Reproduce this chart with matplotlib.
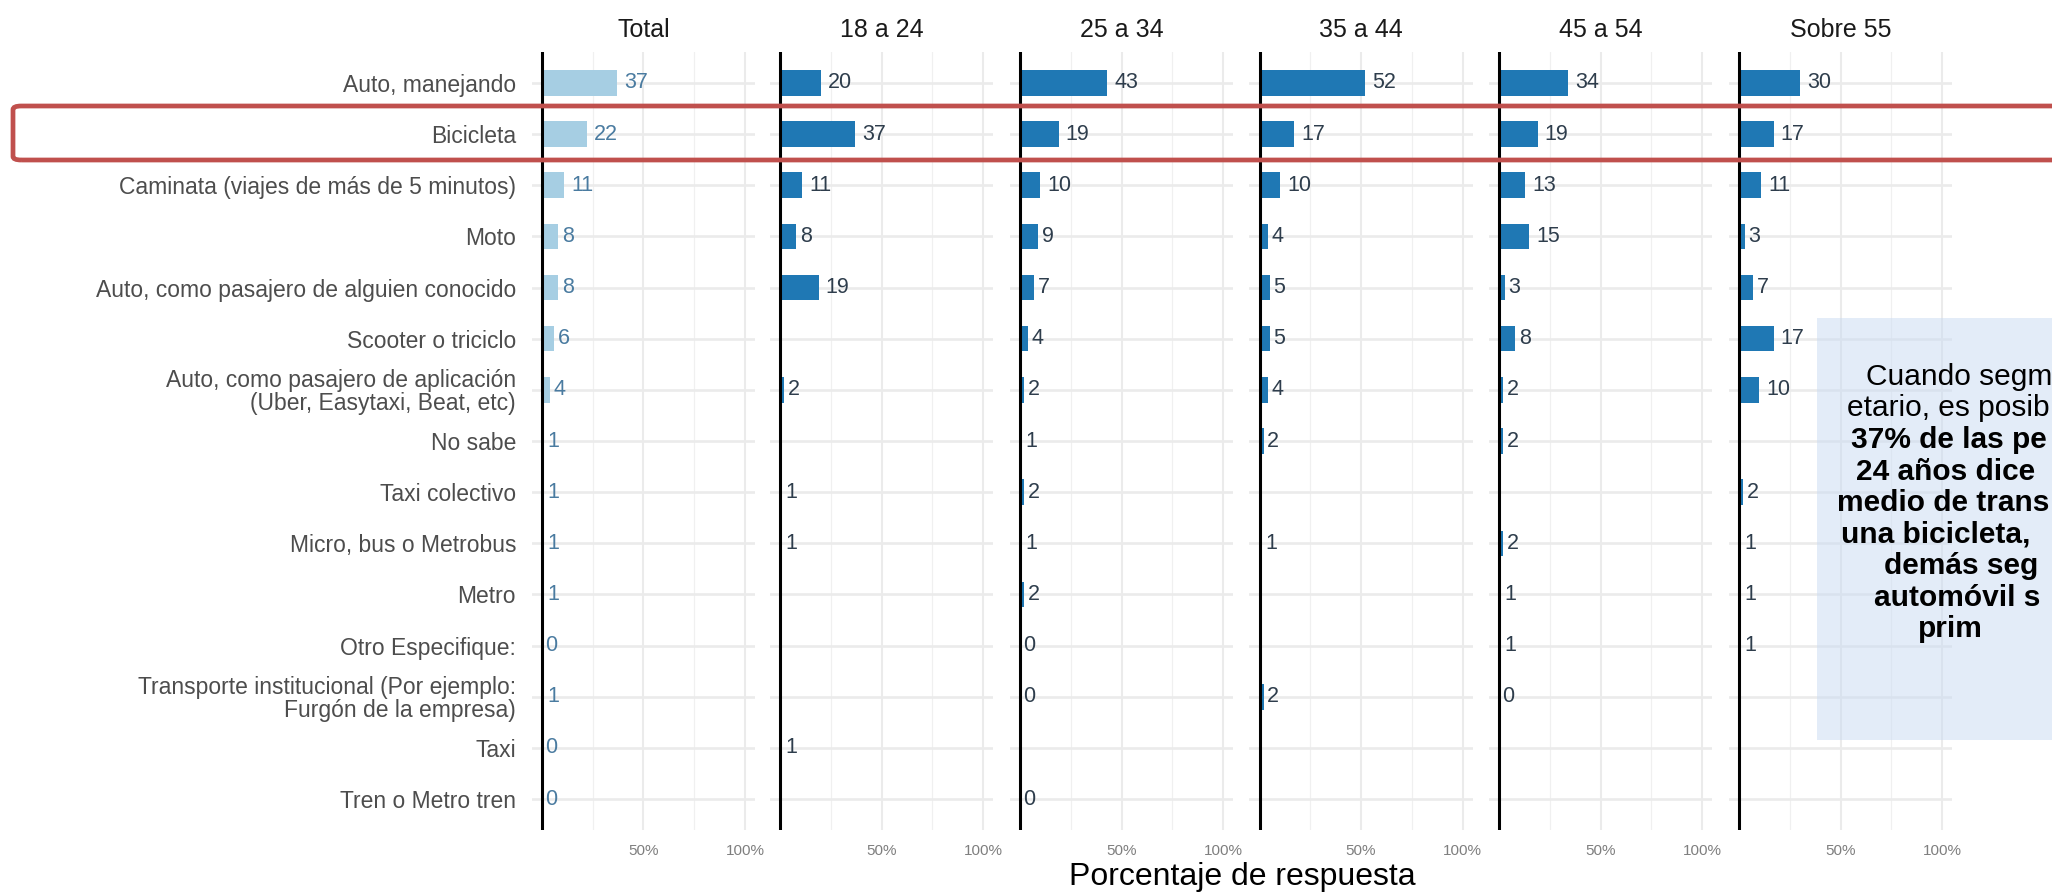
import numpy as np
import matplotlib
matplotlib.use("Agg")
import matplotlib.pyplot as plt
from matplotlib.patches import FancyBboxPatch, Rectangle

plt.rcParams["font.family"] = ["Liberation Sans", "DejaVu Sans"]

# ---- data (percent of answers) ----
categories = [
    "Auto, manejando",
    "Bicicleta",
    "Caminata (viajes de más de 5 minutos)",
    "Moto",
    "Auto, como pasajero de alguien conocido",
    "Scooter o triciclo",
    "Auto, como pasajero de aplicación\n(Uber, Easytaxi, Beat, etc)",
    "No sabe",
    "Taxi colectivo",
    "Micro, bus o Metrobus",
    "Metro",
    "Otro Especifique:",
    "Transporte institucional (Por ejemplo:\nFurgón de la empresa)",
    "Taxi",
    "Tren o Metro tren",
]
panels = ["Total", "18 a 24", "25 a 34", "35 a 44", "45 a 54", "Sobre 55"]
nan = np.nan
total = [37, 22, 11, 8, 8, 6, 4, 1, 1, 1, 1, 0, 1, 0, 0]
age_18_24 = [20, 37, 11, 8, 19, nan, 2, nan, 1, 1, nan, nan, nan, 1, nan]
age_25_34 = [43, 19, 10, 9, 7, 4, 2, 1, 2, 1, 2, 0, 0, nan, 0]
age_35_44 = [52, 17, 10, 4, 5, 5, 4, 2, nan, 1, nan, nan, 2, nan, nan]
age_45_54 = [34, 19, 13, 15, 3, 8, 2, 2, nan, 2, 1, 1, 0, nan, nan]
age_55_up = [30, 17, 11, 3, 7, 17, 10, nan, 2, 1, 1, 1, nan, nan, nan]
series = [total, age_18_24, age_25_34, age_35_44, age_45_54, age_55_up]

note_lines = ["Cuando segm", "etario, es posib", "37% de las pe", "24 años dice",
              "medio de trans", "una bicicleta,", "demás seg", "automóvil s", "prim"]
note_bold = [False, False, True, True, True, True, True, True, True]

LIGHT = "#A6CEE3"
DARK = "#1F78B4"

W, H = 2052, 894
fig = plt.figure(figsize=(W / 100, H / 100), dpi=100)


def fx(px):
    return px / W


def fy(py):
    return 1 - py / H


zeros = [542, 780, 1020, 1259.5, 1499, 1739]   # pixel x of 0% in each facet
ppu = 2.03                                     # pixels per percent
top, bottom = 52.3, 829.7
ypos = np.arange(len(categories))

for i, (name, vals) in enumerate(zip(panels, series)):
    left = zeros[i] - 5 * ppu
    ax = fig.add_axes([fx(left), fy(bottom), 110 * ppu / W, (bottom - top) / H])
    vals = np.array(vals, float)
    col = LIGHT if i == 0 else DARK
    tcol = "#4A7BA0" if i == 0 else "#2E3D4C"
    ok = ~np.isnan(vals)
    ax.barh(ypos[ok], vals[ok], height=0.5, color=col, zorder=2)
    for y, v in zip(ypos[ok], vals[ok]):
        lbl = f"{v:.0f}"
        off = 0.3 * len(lbl) * 0.556 * 15.5
        ax.annotate(lbl, (v, y), xytext=(off, 0), textcoords="offset points",
                    ha="left", va="center", fontsize=15.5, color=tcol, zorder=3)
    ax.axvline(0, color="black", lw=2.2, zorder=4)
    ax.set_xlim(-5, 105)
    ax.set_ylim(len(categories) - 0.4, -0.6)
    ax.set_xticks([50, 100])
    ax.set_xticklabels(["50%", "100%"])
    ax.set_xticks([25, 75], minor=True)
    ax.set_yticks(ypos)
    ax.grid(axis="x", which="major", color="#EBEBEB", lw=1.5, zorder=0)
    ax.grid(axis="x", which="minor", color="#F0F0F0", lw=0.9, zorder=0)
    ax.grid(axis="y", which="major", color="#EBEBEB", lw=1.9, zorder=0)
    ax.set_axisbelow(True)
    for s in ax.spines.values():
        s.set_visible(False)
    ax.tick_params(axis="both", which="both", length=0)
    ax.tick_params(axis="x", labelsize=11, labelcolor="#7F7F7F", pad=10)
    if i == 0:
        ax.set_yticklabels(categories, fontsize=16.5, color="#4D4D4D")
        ax.tick_params(axis="y", pad=11.4)
        for t in ax.get_yticklabels():
            t.set_linespacing(1.0)
    else:
        ax.set_yticklabels([])
    ax.set_title(name, fontsize=18, color="#1A1A1A", pad=11)

fig.text(fx(1242), fy(877), "Porcentaje de respuesta", ha="center", va="center",
         fontsize=23, color="black")

# highlight around the "Bicicleta" row
fig.add_artist(FancyBboxPatch((fx(13), fy(160)), fx(2110) - fx(13), (160 - 106) / H,
                              boxstyle="round,pad=0,rounding_size=0.004",
                              transform=fig.transFigure, fill=False,
                              edgecolor="#C0504D", lw=3.4, zorder=10))

# note box on the right (cut by the figure edge)
fig.add_artist(Rectangle((fx(1817), fy(740)), fx(2100) - fx(1817), (740 - 318) / H,
                         transform=fig.transFigure, facecolor="#C9DBF2", alpha=0.5,
                         edgecolor="none", zorder=9))
note_x = [1866, 1847, 1851, 1856, 1837, 1841, 1884, 1874, 1918]
for k, (txt, b, x0) in enumerate(zip(note_lines, note_bold, note_x)):
    fig.text(fx(x0), fy(377 + 31.5 * k), txt, ha="left", va="center",
             fontsize=21.5, fontweight="bold" if b else "normal",
             color="black", zorder=11)

fig.savefig("out.png", dpi=100)
